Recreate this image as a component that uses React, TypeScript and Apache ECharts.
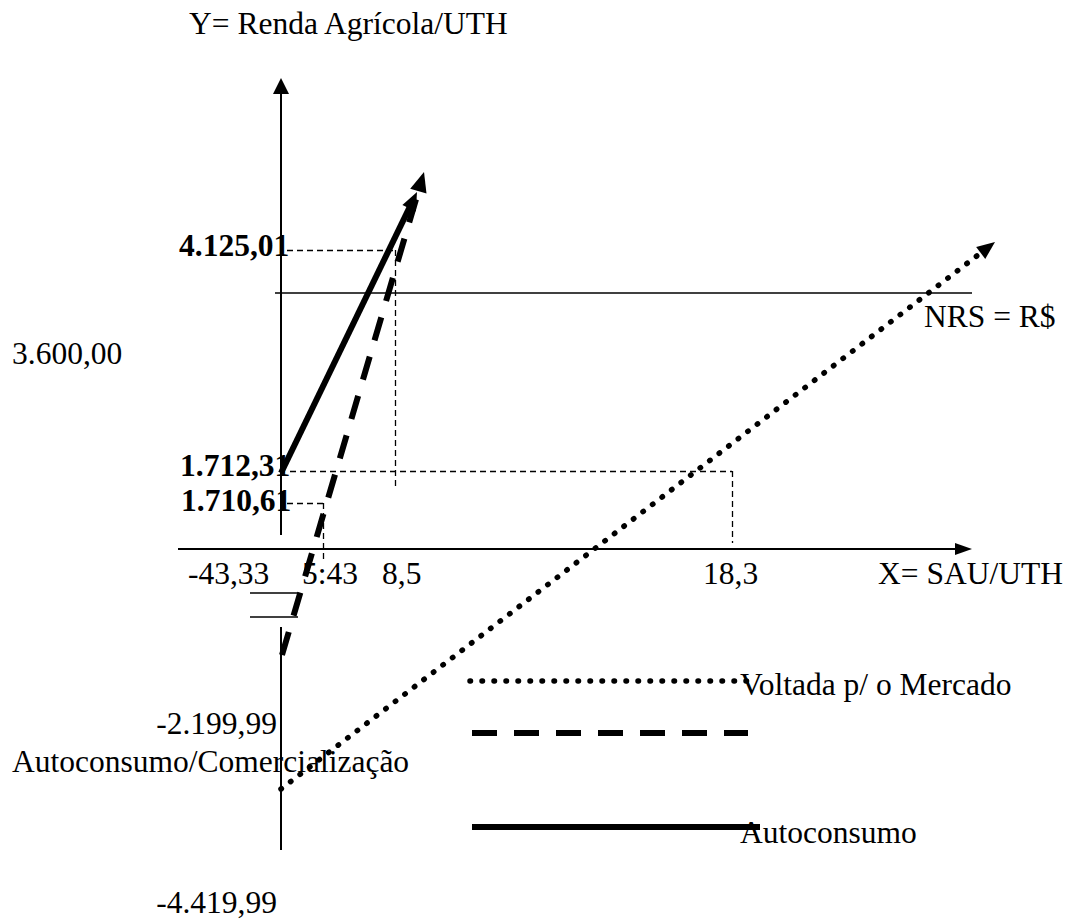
import React, { useEffect, useRef } from "react";
import * as echarts from "echarts";

// ---- Schematic diagram data (origin = axes crossing, y up; diagram is not to scale) ----
const X_RANGE = [-281, 791];
const Y_RANGE = [-372, 549];

// axes of the diagram (from, tip)
const yAxisUpper = [[0, 14], [0, 471]];
const yAxisLower = [[0, -78], [0, -301]];
const xAxisLine = [[-103, 0], [691, 0]];
// NRS horizontal line
const nrsLine = [[-6, 256], [691, 256]];
// the three trajectories (from, tip)
const autoconsumo = [[0, 76], [136, 357]];
const autoComercializacao = [[1, -106], [143, 377]];
const voltadaMercado = [[0, -240], [714, 307]];
// dashed reference lines
const guide4125 = [[[6, 299], [114, 299]], [[114, 299], [114, 59]]];
const guide1712 = [[[9, 78], [451, 78]], [[451, 78], [451, 6]]];
const guide1710 = [[[6, 46], [42, 46]], [[42, 46], [42, -14]]];
// axis break marks
const breakMarks = [[[-31, -44], [17, -44]], [[-31, -68], [17, -68]]];
// legend samples
const legendMercado = [[189, -132], [469, -132]];
const legendComerc = [[191, -184], [467, -184]];
const legendAuto = [[191, -278], [479, -278]];

// ---- Texts ----
const axisTitles = ["Y= Renda Agrícola/UTH", "X= SAU/UTH"];
const yValueLabels = ["4.125,01", "1.712,31", "1.710,61"];
const xTickLabels = ["-43,33", "5:43", "8,5", "18,3"];
const leftValueLabels = ["3.600,00", "-2.199,99", "-4.419,99"];
const nrsLabel = "NRS = R$";
const comercLabel = "Autoconsumo/Comercialização";
const legendNames = ["Voltada p/ o Mercado", "Autoconsumo"];

// ---- Layout (pixels) ----
const FONT = '"Liberation Serif", "Times New Roman", serif';
const FS = 31.5;

function arrowEnd(from: number[], tip: number[], back: number): number[] {
  const dx = tip[0] - from[0];
  const dy = tip[1] - from[1];
  const d = Math.hypot(dx, dy);
  return [tip[0] - (dx / d) * back, tip[1] - (dy / d) * back];
}

function arrowSeries(pts: number[][], width: number, dash: any, cap: string, size: number[]) {
  return {
    type: "lines",
    coordinateSystem: "cartesian2d",
    silent: true,
    symbol: ["none", "triangle"],
    symbolSize: [size, size],
    lineStyle: { color: "#000", width, type: dash, cap, opacity: 1, curveness: 0 },
    data: [{ coords: [pts[0], arrowEnd(pts[0], pts[1], size[1] / 2)] }],
  };
}

function plainSeries(segs: number[][][], width: number, dash: any, cap: string) {
  return {
    type: "lines",
    coordinateSystem: "cartesian2d",
    silent: true,
    symbol: ["none", "none"],
    lineStyle: { color: "#000", width, type: dash, cap, opacity: 1, curveness: 0 },
    data: segs.map((s) => ({ coords: s })),
  };
}

function txt(text: string, x: number, y: number, opts: any = {}) {
  return {
    type: "text",
    x,
    y,
    silent: true,
    z: 0,
    style: {
      text,
      fill: "#000",
      fontFamily: FONT,
      fontSize: FS,
      fontWeight: opts.bold ? "bold" : "normal",
      align: opts.align || "left",
      verticalAlign: "middle",
    },
  };
}

export default function App() {
  const ref = useRef<HTMLDivElement>(null);

  useEffect(() => {
    if (!ref.current) return;
    const chart = echarts.init(ref.current, undefined, { renderer: "svg" });
    const DOT = [0.5, 11.5];
    const DASH = [24, 17];
    const GUIDE = [6, 4];
    chart.setOption({
      animation: false,
      backgroundColor: "#fff",
      grid: { left: 0, right: 0, top: 0, bottom: 0, containLabel: false },
      xAxis: { type: "value", min: X_RANGE[0], max: X_RANGE[1], show: false },
      yAxis: { type: "value", min: Y_RANGE[0], max: Y_RANGE[1], show: false },
      series: [
        arrowSeries(yAxisUpper, 2, "solid", "butt", [16, 16]),
        plainSeries([yAxisLower], 2, "solid", "butt"),
        arrowSeries(xAxisLine, 2, "solid", "butt", [12, 17]),
        plainSeries([nrsLine], 1.6, "solid", "butt"),
        plainSeries([...guide4125, ...guide1712, ...guide1710], 1.3, GUIDE, "butt"),
        plainSeries(breakMarks, 1.6, "solid", "butt"),
        arrowSeries(autoComercializacao, 6, DASH, "butt", [17, 20]),
        arrowSeries(autoconsumo, 6, "solid", "butt", [15, 18]),
        arrowSeries(voltadaMercado, 5.5, DOT, "round", [15, 18]),
        plainSeries([legendMercado], 5.5, DOT, "round"),
        plainSeries([legendComerc], 6, [25, 17], "butt"),
        plainSeries([legendAuto], 6, "solid", "butt"),
      ],
      graphic: {
        elements: [
          txt(axisTitles[0], 189, 23),
          txt(axisTitles[1], 878, 573),
          txt(yValueLabels[0], 179, 245, { bold: true }),
          txt(yValueLabels[1], 180, 465, { bold: true }),
          txt(yValueLabels[2], 181, 500, { bold: true }),
          txt(xTickLabels[0], 188, 573),
          txt(xTickLabels[1], 302, 573),
          txt(xTickLabels[2], 382, 573),
          txt(xTickLabels[3], 703, 573),
          txt(leftValueLabels[0], 12, 353),
          txt(leftValueLabels[1], 277, 723, { align: "right" }),
          txt(leftValueLabels[2], 277, 902, { align: "right" }),
          txt(nrsLabel, 924, 316),
          txt(comercLabel, 12, 761),
          txt(legendNames[0], 740, 684),
          txt(legendNames[1], 740, 832),
        ],
      },
    });
    return () => chart.dispose();
  }, []);

  return (
    <div
      ref={ref}
      style={{ position: "fixed", left: 0, top: 0, width: 1072, height: 921, background: "#fff" }}
    />
  );
}
